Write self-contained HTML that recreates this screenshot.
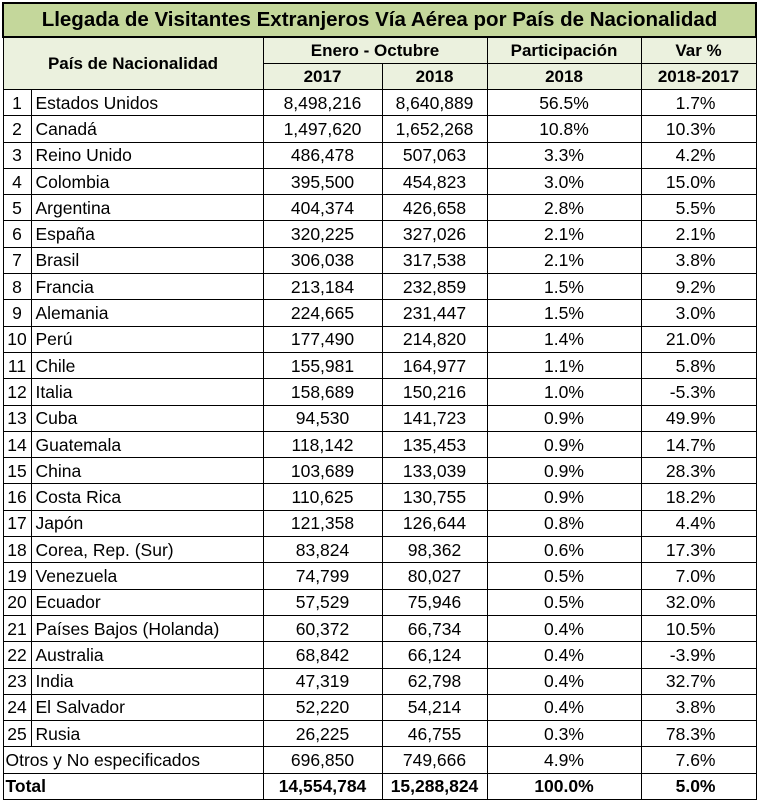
<!DOCTYPE html>
<html><head><meta charset="utf-8"><style>
body{margin:0;background:#fff;}
table{position:absolute;left:2px;top:2px;border-collapse:collapse;table-layout:fixed;width:753px;font-family:"Liberation Sans",sans-serif;font-size:17.5px;color:#000;}
td{border:1px solid #000;padding:0;height:25.3px;line-height:20px;white-space:nowrap;overflow:hidden;}
.t td{background:#c4d79b;height:32px;font-weight:bold;font-size:20.5px;text-align:center;border-width:2px;}
.h td{background:#ebf1de;font-weight:bold;text-align:center;height:25px;font-size:17px;}
.n{text-align:center;}
.c{text-align:center;}
.r{text-align:right;padding-right:40px;}
.nm{padding-left:4px;}
.tot td{font-weight:bold;}
</style></head><body>
<table>
<colgroup><col style="width:28px"><col style="width:232px"><col style="width:119px"><col style="width:105px"><col style="width:154px"><col style="width:115px"></colgroup>
<tr class="t"><td colspan="6">Llegada de Visitantes Extranjeros Vía Aérea por País de Nacionalidad</td></tr>
<tr class="h"><td colspan="2" rowspan="2">País de Nacionalidad</td><td colspan="2">Enero - Octubre</td><td>Participación</td><td>Var %</td></tr>
<tr class="h"><td>2017</td><td>2018</td><td>2018</td><td>2018-2017</td></tr>
<tr><td class="n">1</td><td class="nm">Estados Unidos</td><td class="c">8,498,216</td><td class="c">8,640,889</td><td class="c">56.5%</td><td class="r">1.7%</td></tr>
<tr><td class="n">2</td><td class="nm">Canadá</td><td class="c">1,497,620</td><td class="c">1,652,268</td><td class="c">10.8%</td><td class="r">10.3%</td></tr>
<tr><td class="n">3</td><td class="nm">Reino Unido</td><td class="c">486,478</td><td class="c">507,063</td><td class="c">3.3%</td><td class="r">4.2%</td></tr>
<tr><td class="n">4</td><td class="nm">Colombia</td><td class="c">395,500</td><td class="c">454,823</td><td class="c">3.0%</td><td class="r">15.0%</td></tr>
<tr><td class="n">5</td><td class="nm">Argentina</td><td class="c">404,374</td><td class="c">426,658</td><td class="c">2.8%</td><td class="r">5.5%</td></tr>
<tr><td class="n">6</td><td class="nm">España</td><td class="c">320,225</td><td class="c">327,026</td><td class="c">2.1%</td><td class="r">2.1%</td></tr>
<tr><td class="n">7</td><td class="nm">Brasil</td><td class="c">306,038</td><td class="c">317,538</td><td class="c">2.1%</td><td class="r">3.8%</td></tr>
<tr><td class="n">8</td><td class="nm">Francia</td><td class="c">213,184</td><td class="c">232,859</td><td class="c">1.5%</td><td class="r">9.2%</td></tr>
<tr><td class="n">9</td><td class="nm">Alemania</td><td class="c">224,665</td><td class="c">231,447</td><td class="c">1.5%</td><td class="r">3.0%</td></tr>
<tr><td class="n">10</td><td class="nm">Perú</td><td class="c">177,490</td><td class="c">214,820</td><td class="c">1.4%</td><td class="r">21.0%</td></tr>
<tr><td class="n">11</td><td class="nm">Chile</td><td class="c">155,981</td><td class="c">164,977</td><td class="c">1.1%</td><td class="r">5.8%</td></tr>
<tr><td class="n">12</td><td class="nm">Italia</td><td class="c">158,689</td><td class="c">150,216</td><td class="c">1.0%</td><td class="r">-5.3%</td></tr>
<tr><td class="n">13</td><td class="nm">Cuba</td><td class="c">94,530</td><td class="c">141,723</td><td class="c">0.9%</td><td class="r">49.9%</td></tr>
<tr><td class="n">14</td><td class="nm">Guatemala</td><td class="c">118,142</td><td class="c">135,453</td><td class="c">0.9%</td><td class="r">14.7%</td></tr>
<tr><td class="n">15</td><td class="nm">China</td><td class="c">103,689</td><td class="c">133,039</td><td class="c">0.9%</td><td class="r">28.3%</td></tr>
<tr><td class="n">16</td><td class="nm">Costa Rica</td><td class="c">110,625</td><td class="c">130,755</td><td class="c">0.9%</td><td class="r">18.2%</td></tr>
<tr><td class="n">17</td><td class="nm">Japón</td><td class="c">121,358</td><td class="c">126,644</td><td class="c">0.8%</td><td class="r">4.4%</td></tr>
<tr><td class="n">18</td><td class="nm">Corea, Rep. (Sur)</td><td class="c">83,824</td><td class="c">98,362</td><td class="c">0.6%</td><td class="r">17.3%</td></tr>
<tr><td class="n">19</td><td class="nm">Venezuela</td><td class="c">74,799</td><td class="c">80,027</td><td class="c">0.5%</td><td class="r">7.0%</td></tr>
<tr><td class="n">20</td><td class="nm">Ecuador</td><td class="c">57,529</td><td class="c">75,946</td><td class="c">0.5%</td><td class="r">32.0%</td></tr>
<tr><td class="n">21</td><td class="nm">Países Bajos (Holanda)</td><td class="c">60,372</td><td class="c">66,734</td><td class="c">0.4%</td><td class="r">10.5%</td></tr>
<tr><td class="n">22</td><td class="nm">Australia</td><td class="c">68,842</td><td class="c">66,124</td><td class="c">0.4%</td><td class="r">-3.9%</td></tr>
<tr><td class="n">23</td><td class="nm">India</td><td class="c">47,319</td><td class="c">62,798</td><td class="c">0.4%</td><td class="r">32.7%</td></tr>
<tr><td class="n">24</td><td class="nm">El Salvador</td><td class="c">52,220</td><td class="c">54,214</td><td class="c">0.4%</td><td class="r">3.8%</td></tr>
<tr><td class="n">25</td><td class="nm">Rusia</td><td class="c">26,225</td><td class="c">46,755</td><td class="c">0.3%</td><td class="r">78.3%</td></tr>
<tr><td colspan="2" class="nm" style="padding-left:2px">Otros y No especificados</td><td class="c">696,850</td><td class="c">749,666</td><td class="c">4.9%</td><td class="r">7.6%</td></tr>
<tr class="tot"><td colspan="2" class="nm" style="padding-left:2px">Total</td><td class="c">14,554,784</td><td class="c">15,288,824</td><td class="c">100.0%</td><td class="r">5.0%</td></tr>
</table>
</body></html>
